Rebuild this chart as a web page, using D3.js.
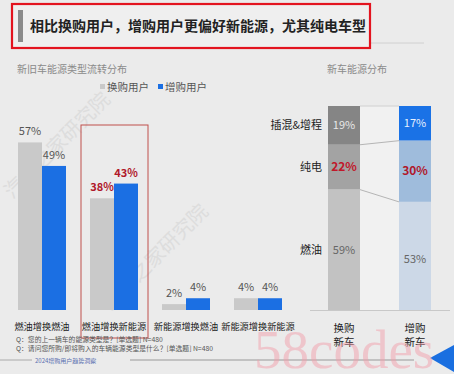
<!DOCTYPE html>
<html>
<head>
<meta charset="utf-8">
<script src="https://cdn.jsdelivr.net/npm/d3@7"></script>
<style>
body { margin: 0; background: #ebebeb; }
svg { display: block; font-family: "Noto Sans CJK SC", "Noto Sans", sans-serif; }
</style>
</head>
<body>
<div id="container"></div>
<script>
var width = 454, height = 374;

// left chart data
var flowCats = ["燃油增换燃油", "燃油增换新能源", "新能源增换燃油", "新能源增换新能源"];
var seriesNames = ["换购用户", "增购用户"];
var replaceVals = [57, 38, 2, 4];
var addVals = [49, 43, 4, 4];

// right chart data
var carCats = ["换购新车", "增购新车"];
var energyTypes = ["插混&增程", "纯电", "燃油"];
var replaceShare = [19, 22, 59];
var addShare = [17, 30, 53];

var svg = d3.select("#container").append("svg")
    .attr("width", width)
    .attr("height", height);

svg.append("rect").attr("width", width).attr("height", height).attr("fill", "#ebebeb");

// title box
svg.append("line").attr("x1", 370).attr("x2", 424).attr("y1", 43).attr("y2", 43)
    .attr("stroke", "#d0d0d0").attr("stroke-width", 1);
svg.append("rect").attr("x", 12).attr("y", 4).attr("width", 358).attr("height", 44)
    .attr("fill", "#efefef").attr("stroke", "#e3141f").attr("stroke-width", 2.2);
svg.append("rect").attr("x", 18).attr("y", 10).attr("width", 5).attr("height", 32).attr("fill", "#8a8a8a");
svg.append("text").attr("x", 30).attr("y", 31)
    .attr("font-size", 14).attr("font-weight", "bold").attr("fill", "#222")
    .text("相比换购用户，增购用户更偏好新能源，尤其纯电车型");

// watermarks
[[62, 150], [160, 262]].forEach(function(p) {
  svg.append("text").attr("transform", "translate(" + p[0] + "," + p[1] + ") rotate(-45)")
      .attr("text-anchor", "middle").attr("font-size", 20).attr("fill", "#c4c4c4")
      .attr("opacity", 0.35).text("汽车之家研究院");
});

// subtitles
svg.append("text").attr("x", 17).attr("y", 73).attr("font-size", 10).attr("fill", "#8a8a8a")
    .text("新旧车能源类型流转分布");
svg.append("text").attr("x", 327).attr("y", 73).attr("font-size", 10).attr("fill", "#8a8a8a")
    .text("新车能源分布");

// legend
var colors = ["#c9c9c9", "#1b6fe3"];
var legend = svg.append("g");
[100, 158].forEach(function(lx, i) {
  legend.append("rect").attr("x", lx).attr("y", 84).attr("width", 5).attr("height", 5).attr("fill", colors[i]);
  legend.append("text").attr("x", lx + 7).attr("y", 91).attr("font-size", 10.5).attr("fill", "#555")
      .text(seriesNames[i]);
});

// left grouped bars
var x0 = d3.scaleBand().domain(flowCats).range([6, 294]).paddingInner(1 / 3).paddingOuter(1 / 6);
var x1 = d3.scaleBand().domain(seriesNames).range([0, x0.bandwidth()]);
var y = d3.scaleLinear().domain([0, 60]).range([310, 310 - 176.4]);

// highlight box
svg.append("rect").attr("x", 81).attr("y", 125).attr("width", 67).attr("height", 213)
    .attr("fill", "none").attr("stroke", "#c0504d").attr("stroke-width", 1);

var rows = flowCats.map(function(c, i) {
  return { cat: c, vals: [replaceVals[i], addVals[i]], hi: i === 1 };
});

var groups = svg.selectAll(".grp").data(rows).join("g")
    .attr("class", "grp")
    .attr("transform", function(d) { return "translate(" + x0(d.cat) + ",0)"; });

groups.selectAll("rect").data(function(d) { return d.vals.map(function(v, i) { return { v: v, s: seriesNames[i], i: i, hi: d.hi }; }); })
  .join("rect")
    .attr("x", function(d) { return x1(d.s); })
    .attr("y", function(d) { return y(d.v); })
    .attr("width", x1.bandwidth())
    .attr("height", function(d) { return y(0) - y(d.v); })
    .attr("fill", function(d) { return colors[d.i]; });

groups.selectAll("text.val").data(function(d) { return d.vals.map(function(v, i) { return { v: v, s: seriesNames[i], hi: d.hi }; }); })
  .join("text")
    .attr("class", "val")
    .attr("x", function(d) { return x1(d.s) + x1.bandwidth() / 2; })
    .attr("y", function(d) { return y(d.v) - 7; })
    .attr("text-anchor", "middle")
    .attr("font-size", 11)
    .attr("font-weight", function(d) { return d.hi ? "bold" : "normal"; })
    .attr("fill", function(d) { return d.hi ? "#b0182a" : "#555"; })
    .text(function(d) { return d.v + "%"; });

groups.append("text")
    .attr("x", x0.bandwidth() / 2).attr("y", 330)
    .attr("text-anchor", "middle").attr("font-size", 9.2).attr("fill", "#222")
    .text(function(d) { return d.cat; });

// footnotes
svg.append("text").attr("x", 16).attr("y", 342).attr("font-size", 6.8).attr("fill", "#555")
    .text("Q：您的上一辆车的能源类型是？[单选题] N=480");
svg.append("text").attr("x", 16).attr("y", 351).attr("font-size", 6.8).attr("fill", "#555")
    .text("Q：请问您所购/即将购入的车辆能源类型是什么？[单选题] N=480");
svg.append("line").attr("x1", 0).attr("x2", 32).attr("y1", 360).attr("y2", 360).attr("stroke", "#aaa");
svg.append("line").attr("x1", 130).attr("x2", 414).attr("y1", 360).attr("y2", 360).attr("stroke", "#999");
svg.append("text").attr("x", 35).attr("y", 363).attr("font-size", 6).attr("fill", "#5a6fb0")
    .text("2024增购用户趋势洞察");

// right stacked bars
var xr = d3.scaleBand().domain(carCats).range([328, 431]).paddingInner(39 / 71);
var yr = d3.scaleLinear().domain([0, 100]).range([310, 106]);
var shares = [replaceShare, addShare];
var segColors = [["#858585", "#a3a3a3", "#c2c2c2"], ["#1a72e6", "#9fbcdc", "#ccd8e7"]];
var textColors = [["#e8e8e8", "#c0182a", "#666"], ["#e8f0ff", "#b0182a", "#666"]];

// light band between bars
svg.append("rect").attr("x", xr(carCats[0]) + xr.bandwidth()).attr("y", yr(100))
    .attr("width", xr(carCats[1]) - xr(carCats[0]) - xr.bandwidth()).attr("height", yr(0) - yr(100))
    .attr("fill", "#f1f1f1");

// segments stacked from top: cumulative from 100 downward
function stackTop(arr) {
  var acc = 100, out = [];
  arr.forEach(function(v) { out.push([acc, acc - v]); acc -= v; });
  return out;
}

carCats.forEach(function(c, ci) {
  var segs = stackTop(shares[ci]);
  var g = svg.append("g");
  g.selectAll("rect").data(segs).join("rect")
      .attr("x", xr(c)).attr("y", function(d) { return yr(d[0]); })
      .attr("width", xr.bandwidth())
      .attr("height", function(d) { return yr(d[1]) - yr(d[0]); })
      .attr("fill", function(d, i) { return segColors[ci][i]; });
  g.selectAll("text").data(segs).join("text")
      .attr("x", xr(c) + xr.bandwidth() / 2)
      .attr("y", function(d, i) { return (yr(d[0]) + yr(d[1])) / 2 + 4 + (ci === 1 && i === 2 ? 3 : 0); })
      .attr("text-anchor", "middle")
      .attr("font-size", function(d, i) { return i === 1 ? 12 : 11; })
      .attr("font-weight", function(d, i) { return i === 1 ? "bold" : "normal"; })
      .attr("fill", function(d, i) { return textColors[ci][i]; })
      .text(function(d, i) { return shares[ci][i] + "%"; });
  var lab = svg.append("text").attr("text-anchor", "middle").attr("font-size", 10.5).attr("fill", "#222");
  lab.append("tspan").attr("x", xr(c) + xr.bandwidth() / 2).attr("y", 332).text(c.slice(0, 2));
  lab.append("tspan").attr("x", xr(c) + xr.bandwidth() / 2).attr("y", 346).text(c.slice(2));
});

// connector lines between segment boundaries
var segL = stackTop(replaceShare), segR = stackTop(addShare);
segL.slice(0, 2).forEach(function(d, i) {
  svg.append("line")
      .attr("x1", xr(carCats[0]) + xr.bandwidth()).attr("y1", yr(d[1]))
      .attr("x2", xr(carCats[1])).attr("y2", yr(segR[i][1]))
      .attr("stroke", "#b5b5b5").attr("stroke-width", 1);
});
svg.append("line")
    .attr("x1", xr(carCats[0]) + xr.bandwidth()).attr("y1", yr(100))
    .attr("x2", xr(carCats[1])).attr("y2", yr(100))
    .attr("stroke", "#d0d0d0").attr("stroke-width", 1);

// energy type labels
var segMid = segL.map(function(d) { return (yr(d[0]) + yr(d[1])) / 2 + 4; });
svg.selectAll("text.etype").data(energyTypes).join("text")
    .attr("class", "etype")
    .attr("x", 322).attr("y", function(d, i) { return segMid[i]; })
    .attr("text-anchor", "end").attr("font-size", 11).attr("fill", "#222")
    .text(function(d) { return d; });

// baseline
svg.append("line").attr("x1", 310).attr("x2", 450).attr("y1", yr(0) + 0.5).attr("y2", yr(0) + 0.5)
    .attr("stroke", "#c8c8c8");

// site watermark and corner mark
svg.append("path").attr("d", "M430,358 L454,345 L454,372 Z").attr("fill", "#1a6fe0");
svg.append("text").attr("x", 254).attr("y", 368).attr("font-size", 55)
    .attr("font-family", "'Liberation Serif', 'DejaVu Serif', serif")
    .attr("fill", "#f2a0ac").attr("opacity", 0.5).text("58codes");
</script>
</body>
</html>
